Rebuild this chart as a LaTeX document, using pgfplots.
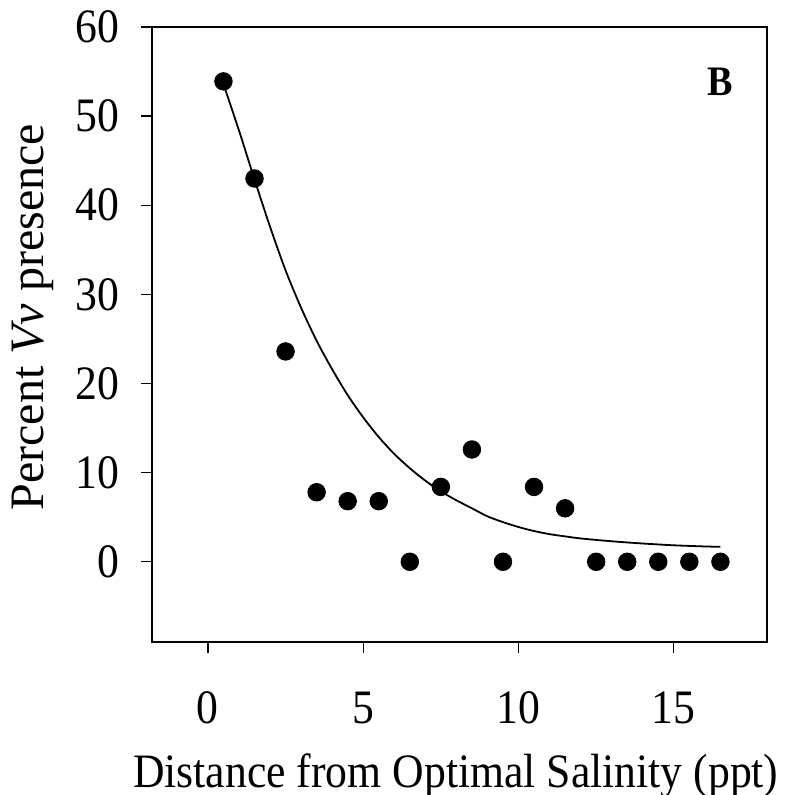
\documentclass[border=0pt]{standalone}
\usepackage{fontspec}
\setmainfont{Liberation Serif}
\newfontfamily\sq[FakeStretch=0.91]{Liberation Serif}
\newcommand\bigfont{\fontsize{24bp}{28bp}\selectfont}
\usepackage{pgfplots}
\pgfplotsset{compat=1.18}
\begin{document}
\begin{tikzpicture}
\begin{axis}[
  at={(0,0)}, anchor=south west,
  scale only axis, width=307.5bp, height=307.5bp,
  xmin=-1.8, xmax=18, ymin=-9, ymax=60,
  xtick={0,5,10,15}, ytick={0,10,20,30,40,50,60},
  tick align=outside, xtick pos=bottom, ytick pos=left,
  major tick length=5.5bp,
  axis line style={line width=0.65bp},
  every tick/.style={black, line width=0.65bp},
  font={\sq\bigfont},
  /pgf/number format/assume math mode=true,
  xticklabel style={anchor=base, yshift=-35bp},
  yticklabel style={anchor=east, xshift=-7.5bp},
  xlabel={Distance from Optimal Salinity (ppt)},
  ylabel={Percent \textit{Vv} presence},
  xlabel style={at={(axis description cs:0.494,0)}, anchor=base, yshift=-72.5bp},
  ylabel style={at={(axis description cs:-0.1772,0.528)}, anchor=base, font={\rmfamily\bigfont}},
]
\addplot[only marks, mark=*, mark size=4.4bp, black] coordinates {
 (0.5,53.9) (1.5,43.0) (2.5,23.6) (3.5,7.8) (4.5,6.8) (5.5,6.8) (6.5,0)
 (7.5,8.4) (8.5,12.6) (9.5,0) (10.5,8.4) (11.5,6.0) (12.5,0) (13.5,0)
 (14.5,0) (15.5,0) (16.5,0)
};
\addplot[black, line width=0.9bp, smooth] coordinates {
 (0.5,53.6) (1.0,48.4) (1.5,42.9) (2.0,37.6) (2.5,32.7) (3.0,28.5) (3.5,24.8)
 (4.0,21.6) (4.5,18.7) (5.0,16.2) (5.5,14.0) (6.0,12.1) (6.5,10.5) (7.0,9.1)
 (7.5,7.9) (8.0,6.9) (8.5,6.0) (9.0,5.1) (9.5,4.45) (10.0,3.9) (10.5,3.45)
 (11.0,3.1) (11.5,2.85) (12.0,2.62) (13.0,2.3) (14.0,2.05) (15.0,1.85)
 (16.0,1.72) (16.5,1.68)
};
\node[font={\sq\fontsize{21bp}{25bp}\selectfont\bfseries}] at (axis cs:16.5,53.8) {B};
\end{axis}
\pgfresetboundingbox
\useasboundingbox (-76bp,-76.5bp) rectangle (318bp,321bp);
\end{tikzpicture}
\end{document}
